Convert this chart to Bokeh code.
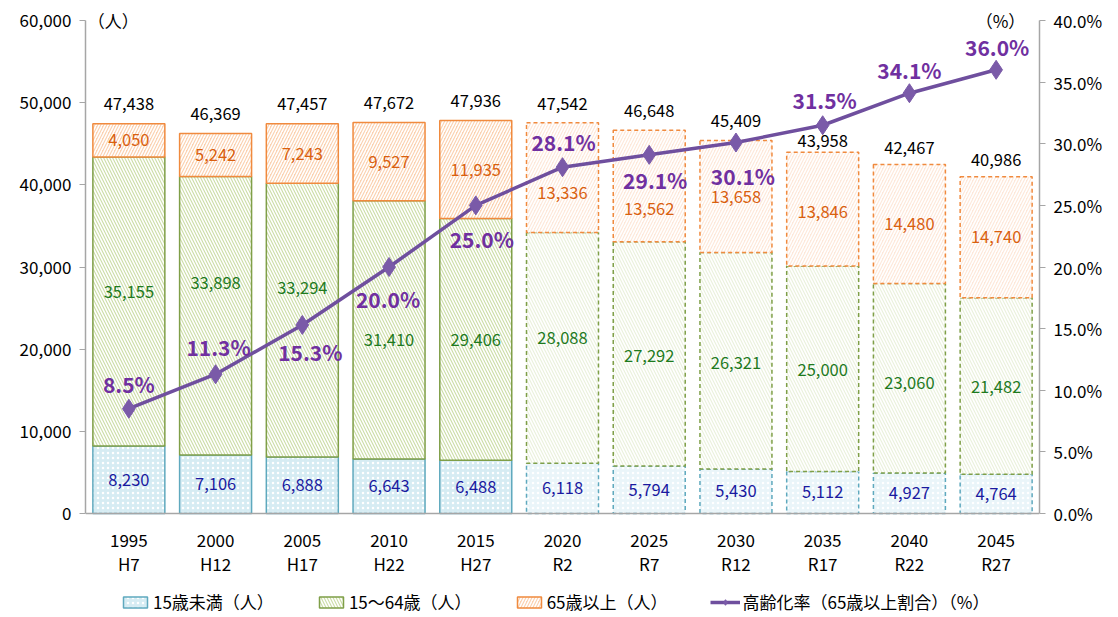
from bokeh.plotting import figure
from bokeh.models import (ColumnDataSource, Range1d, LinearAxis, NumeralTickFormatter,
                          PrintfTickFormatter, FixedTicker, Legend, LegendItem, Label, Span)
from bokeh.core.properties import value
from bokeh.embed import file_html
from bokeh.resources import INLINE

# ---------------- data ----------------
years = ["1995", "2000", "2005", "2010", "2015", "2020", "2025", "2030", "2035", "2040", "2045"]
eras = ["H7", "H12", "H17", "H22", "H27", "R2", "R7", "R12", "R17", "R22", "R27"]
under15 = [8230, 7106, 6888, 6643, 6488, 6118, 5794, 5430, 5112, 4927, 4764]
age15_64 = [35155, 33898, 33294, 31410, 29406, 28088, 27292, 26321, 25000, 23060, 21482]
over65 = [4050, 5242, 7243, 9527, 11935, 13336, 13562, 13658, 13846, 14480, 14740]
totals = [47438, 46369, 47457, 47672, 47936, 47542, 46648, 45409, 43958, 42467, 40986]
aging_rate = [8.5, 11.3, 15.3, 20.0, 25.0, 28.1, 29.1, 30.1, 31.5, 34.1, 36.0]
n_actual = 5  # first five are census results, the rest projections

legend_labels = ["15歳未満（人）", "15～64歳（人）", "65歳以上（人）", "高齢化率（65歳以上割合）（%）"]

# label placement tweaks (screen pixels, positive = down; style only)
green_dy = [-9, -33, -32, 10, 1, -10, 2, 2, 1, 5, 1]
orange_dy = [0, 0, 0, 0, 0, 15, 23, 0, 3, 0, 0]
total_dy = [-20, -20, -20, -20, -20, -19, -19, -19, -11, -17, -17]
pct_dx = [0, 3, 8, -1, 6, 1, 6, 7, 2, 0, 1]
pct_dy = [-25, -27, 27, 32, 34, -25, 25, 33, -25, -23, -23]

FONT = "Noto Sans CJK JP"
AX_COL = "#A6A6A6"

b1 = [0] * len(years)
t1 = under15
t2 = [a + b for a, b in zip(t1, age15_64)]
t3 = [a + b for a, b in zip(t2, over65)]

# the frame is extended below zero so that the category labels and legend share it
Y_MAX, P_MAX = 60000, 40
PLOT_H = 493                  # pixels between 0 and the top tick
HEAD, LOW = 8 / PLOT_H, 104 / PLOT_H
p = figure(x_range=years, y_range=Range1d(-Y_MAX * LOW, Y_MAX * (1 + HEAD)),
           frame_width=954, frame_height=round(PLOT_H * (1 + HEAD + LOW)),
           min_border_left=85, min_border_right=70, min_border_top=12, min_border_bottom=0,
           output_backend="svg", toolbar_location=None)
p.extra_y_ranges = {"pct": Range1d(-P_MAX * LOW, P_MAX * (1 + HEAD))}
p.xgrid.visible = False
p.ygrid.visible = False
p.xaxis.visible = False
p.outline_line_color = None

segments = [
    # bottom, top, hatch, fill hist, fill proj, line, scale
    (b1, t1, ".", "#D6ECF3", "#EAF5F9", "#5FA9BE", 5),
    (t1, t2, "\\", "#CCDDA8", "#EAF1DC", "#7F9F48", 6),
    (t2, t3, "/", "#FBD1B0", "#FDE8DA", "#F08A3E", 6),
]
hist_renderers = []
for bot, top, hp, fh, fp, lc, sc in segments:
    src_h = ColumnDataSource(dict(x=years[:n_actual], b=bot[:n_actual], t=top[:n_actual]))
    src_p = ColumnDataSource(dict(x=years[n_actual:], b=bot[n_actual:], t=top[n_actual:]))
    r = p.vbar(x="x", bottom="b", top="t", width=0.83, source=src_h,
               fill_color=fh, hatch_pattern=hp, hatch_color="white", hatch_scale=sc,
               hatch_weight=1.6, line_color=lc, line_width=1.5)
    p.vbar(x="x", bottom="b", top="t", width=0.83, source=src_p,
           fill_color=fp, hatch_pattern=hp, hatch_color="white", hatch_scale=sc,
           hatch_weight=1.6, line_color=lc, line_width=1.5, line_dash="4 3")
    hist_renderers.append(r)

# category axis line at zero
p.add_layout(Span(location=0, dimension="width", line_color=AX_COL, line_width=1.5))

# percent line
line_src = ColumnDataSource(dict(x=years, y=aging_rate,
                                 txt=[f"{v:.1f}%" for v in aging_rate],
                                 dx=pct_dx, dy=pct_dy))
lr = p.line("x", "y", source=line_src, y_range_name="pct", line_color="#6F4F9E", line_width=3.5)
mr = p.scatter("x", "y", source=line_src, y_range_name="pct", marker="diamond", size=19,
               fill_color="#7A5AA8", line_color="#7A5AA8")

# value labels
mid1 = [(a + b) / 2 for a, b in zip(b1, t1)]
mid2 = [(a + b) / 2 for a, b in zip(t1, t2)]
mid3 = [(a + b) / 2 for a, b in zip(t2, t3)]
fs = "16.5px"
p.text(x=years, y=mid1, text=[f"{v:,}" for v in under15], text_align="center",
       text_baseline="middle", text_color="#1A1AA0", text_font=value(FONT), text_font_size=fs)
p.text(x=years, y=mid2, text=[f"{v:,}" for v in age15_64], y_offset=green_dy, text_align="center",
       text_baseline="middle", text_color="#1E7A1E", text_font=value(FONT), text_font_size=fs)
p.text(x=years, y=mid3, text=[f"{v:,}" for v in over65], y_offset=orange_dy, text_align="center",
       text_baseline="middle", text_color="#D9600F", text_font=value(FONT), text_font_size=fs)
p.text(x=years, y=t3, text=[f"{v:,}" for v in totals], y_offset=total_dy, text_align="center",
       text_baseline="middle", text_color="black", text_font=value(FONT), text_font_size=fs)
p.text("x", "y", text="txt", source=line_src, x_offset="dx", y_offset="dy", y_range_name="pct",
       text_align="center", text_baseline="middle", text_color="#7030A0",
       text_font=value(FONT), text_font_size="21px", text_font_style="bold")

# category labels (year / era) under the zero line
p.text(x=years, y=b1, text=years, y_offset=27, text_align="center", text_baseline="middle",
       text_color="black", text_font=value(FONT), text_font_size="17px")
p.text(x=years, y=b1, text=eras, y_offset=50, text_align="center", text_baseline="middle",
       text_color="black", text_font=value(FONT), text_font_size="17px")

# unit labels
p.add_layout(Label(x=0.32, y=Y_MAX, text="（人）", text_align="center", text_baseline="middle",
                   text_font=FONT, text_font_size="17px", text_color="black"))
p.add_layout(Label(x=10.55, y=Y_MAX, text="（%）", text_align="center", text_baseline="middle",
                   text_font=FONT, text_font_size="17px", text_color="black"))

# value axes
yl = p.yaxis[0]
yl.ticker = FixedTicker(ticks=list(range(0, Y_MAX + 1, 10000)))
yl.formatter = NumeralTickFormatter(format="0,0")
yl.bounds = (0, Y_MAX)
yr = LinearAxis(y_range_name="pct", ticker=FixedTicker(ticks=list(range(0, P_MAX + 1, 5))),
                formatter=PrintfTickFormatter(format="%.1f%%"), bounds=(0, P_MAX))
p.add_layout(yr, "right")
for ax in (yl, yr):
    ax.axis_line_color = AX_COL
    ax.axis_line_width = 1.5
    ax.major_tick_line_color = AX_COL
    ax.major_tick_out = 6
    ax.major_tick_in = 0
    ax.minor_tick_line_color = None
    ax.major_label_text_font = FONT
    ax.major_label_text_font_size = "17px"
    ax.major_label_text_color = "black"
    ax.major_label_standoff = 8

legend = Legend(items=[LegendItem(label=legend_labels[0], renderers=[hist_renderers[0]]),
                       LegendItem(label=legend_labels[1], renderers=[hist_renderers[1]]),
                       LegendItem(label=legend_labels[2], renderers=[hist_renderers[2]]),
                       LegendItem(label=legend_labels[3], renderers=[lr, mr])],
                orientation="horizontal", location=(35, 3),
                label_text_font=FONT, label_text_font_size="17px", label_text_color="black",
                glyph_width=30, glyph_height=14, spacing=42, label_standoff=3,
                border_line_color=None, background_fill_alpha=0, padding=0, margin=0)
p.add_layout(legend, "center")

open("out.html", "w").write(file_html(p, INLINE))
